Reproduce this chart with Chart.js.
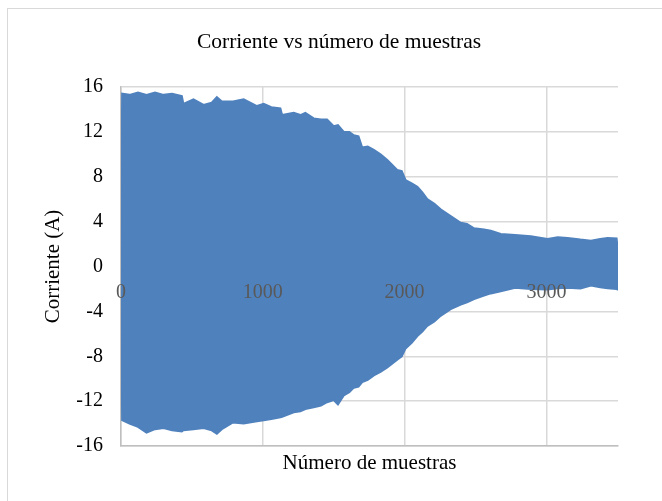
<!DOCTYPE html>
<html lang="es">
<head>
	<meta charset="utf-8">
	<title>Corriente vs número de muestras</title>
	<script src="https://cdn.jsdelivr.net/npm/chart.js@4.4.1/dist/chart.umd.min.js"></script>
	<style>
		body { margin: 0; background: #fff; }
		#wrap { position: relative; width: 662px; height: 501px; overflow: hidden; }
		#frame { position: absolute; left: 7px; top: 8px; width: 700px; height: 600px; border: 1px solid #d9d9d9; }
		#chart { position: absolute; left: 0; top: 0; }
	</style>
</head>
<body>
	<div id="wrap">
		<div id="frame"></div>
		<canvas id="chart" width="662" height="501"></canvas>
	</div>
	<script>
    // envelope of the current signal (sample number -> amps)
    var sampleX = [0, 8, 60, 120, 180, 240, 300, 360, 429, 440, 511, 582, 640, 676, 711, 790,
    	865, 959, 1006, 1060, 1124, 1136, 1218, 1265, 1300, 1359, 1410, 1453, 1500, 1530, 1571, 1610, 1642,
    	1675, 1701, 1740, 1783, 1830, 1878, 1948, 1980, 2007, 2050, 2090, 2125, 2160, 2210, 2254, 2325, 2396, 2440, 2490,
    	2560, 2608, 2678, 2780, 2890, 3008, 3080, 3150, 3240, 3314, 3380, 3432, 3495, 3505];
    var upperEnvelope = [0.3, 15.4, 15.3, 15.5, 15.3, 15.5, 15.3, 15.4, 15.2, 14.5, 14.9, 14.4, 14.6, 15.1, 14.7, 14.7,
    	14.9, 14.3, 14.5, 14.2, 14.1, 13.5, 13.7, 13.5, 13.7, 13.2, 13.1, 13.1, 12.5, 12.6, 12.0, 12.0, 11.7,
    	11.6, 10.6, 10.7, 10.4, 10.0, 9.5, 8.6, 8.5, 7.7, 7.4, 7.1, 6.6, 6.0, 5.6, 5.1, 4.5, 3.9, 3.8, 3.4,
    	3.3, 3.2, 2.9, 2.8, 2.7, 2.45, 2.6, 2.55, 2.4, 2.3, 2.45, 2.55, 2.5, 1.4];
    var lowerEnvelope = [0, -13.7, -14.0, -14.3, -14.8, -14.5, -14.4, -14.6, -14.7, -14.6, -14.5, -14.4, -14.6, -14.9, -14.5, -13.9,
    	-14.0, -13.8, -13.7, -13.6, -13.45, -13.4, -13.0, -12.9, -12.7, -12.55, -12.4, -12.1, -11.9, -12.3, -11.5, -11.2, -10.8,
    	-10.7, -10.3, -10.1, -9.7, -9.4, -9.0, -8.3, -8.0, -7.3, -6.8, -6.2, -5.8, -5.3, -4.9, -4.4, -3.8, -3.4, -3.2, -2.9,
    	-2.6, -2.4, -2.2, -1.9, -2.0, -2.05, -1.95, -1.9, -1.95, -1.7, -1.85, -1.95, -2.0, -2.1];
    var xTickValues = [0, 1000, 2000, 3000];
    var xTickLabels = ['0', '1000', '2000', '3000'];

    var blue = '#4f81bd';
    var serif = "'Liberation Serif', 'Times New Roman', serif";

    function points(ys) {
    	var out = [];
    	for (var i = 0; i < sampleX.length; i++) out.push({x: sampleX[i], y: ys[i]});
    	return out;
    }

    // title and the x labels that sit on the zero line, drawn over the series like Excel does
    var overlay = {
    	id: 'overlay',
    	afterDatasetsDraw: function(chart) {
    		var ctx = chart.ctx;
    		var xs = chart.scales.x, ys = chart.scales.y;
    		ctx.save();
    		ctx.textAlign = 'center';
    		ctx.textBaseline = 'middle';
    		ctx.fillStyle = '#595959';
    		ctx.font = '20px ' + serif;
    		for (var i = 0; i < xTickValues.length; i++) {
    			ctx.fillText(xTickLabels[i], xs.getPixelForValue(xTickValues[i]), ys.getPixelForValue(0) + 26);
    		}
    		ctx.fillStyle = '#000';
    		ctx.font = '21.5px ' + serif;
    		ctx.fillText('Corriente vs número de muestras', 339, 42);
    		ctx.restore();
    	}
    };

    Chart.defaults.font.family = serif;

    new Chart(document.getElementById('chart'), {
    	type: 'line',
    	data: {
    		datasets: [{
    			data: points(lowerEnvelope),
    			borderColor: blue,
    			backgroundColor: blue,
    			borderWidth: 2,
    			pointRadius: 0,
    			fill: false
    		}, {
    			data: points(upperEnvelope),
    			borderColor: blue,
    			backgroundColor: blue,
    			borderWidth: 2,
    			pointRadius: 0,
    			fill: 0
    		}]
    	},
    	options: {
    		responsive: false,
    		animation: false,
    		devicePixelRatio: 1,
    		layout: { padding: { top: 87, right: 44, left: 0, bottom: 0 } },
    		plugins: {
    			legend: { display: false },
    			tooltip: { enabled: false }
    		},
    		scales: {
    			x: {
    				type: 'linear',
    				min: 0,
    				max: 3505,
    				afterFit: function(s) { s.height = 55; },
    				afterBuildTicks: function(s) {
    					s.ticks = xTickValues.map(function(v) { return {value: v}; });
    				},
    				ticks: { display: false },
    				grid: { color: '#d9d9d9', lineWidth: 1.5, drawTicks: false },
    				border: { color: '#bfbfbf', width: 1.5 },
    				title: {
    					display: true,
    					text: 'Número de muestras',
    					color: '#000',
    					font: { size: 21 },
    					padding: { top: 0, bottom: 25 }
    				}
    			},
    			y: {
    				min: -16,
    				max: 16,
    				afterFit: function(s) { s.width = 121; },
    				ticks: { stepSize: 4, color: '#000', font: { size: 20 }, padding: 18 },
    				grid: { color: '#d9d9d9', lineWidth: 1.5, drawTicks: false },
    				border: { color: '#bfbfbf', width: 1.5 },
    				title: {
    					display: true,
    					text: 'Corriente (A)',
    					color: '#000',
    					font: { size: 21 },
    					padding: { top: 41, bottom: 0 }
    				}
    			}
    		}
    	},
    	plugins: [overlay]
    });
	</script>
</body>
</html>
